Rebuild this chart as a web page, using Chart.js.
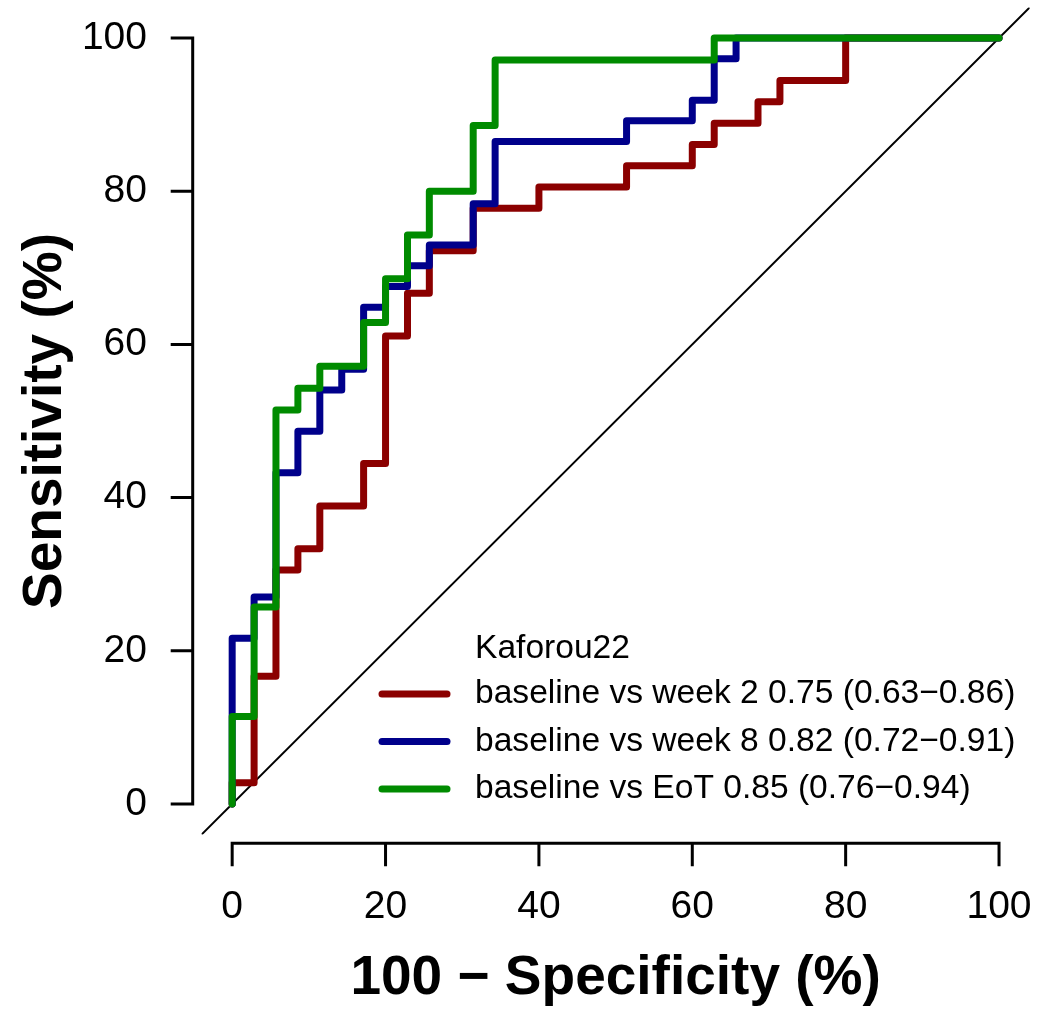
<!DOCTYPE html>
<html>
<head>
<meta charset="utf-8">
<script src="https://cdn.jsdelivr.net/npm/chart.js@4.4.1/dist/chart.umd.min.js"></script>
<style>
  html, body { margin: 0; padding: 0; background: #ffffff; }
  canvas { display: block; }
</style>
</head>
<body>
<canvas id="c" width="1039" height="1013"></canvas>
<script>
// ---- data ----
const xTicks = [0, 20, 40, 60, 80, 100];
const yTicks = [0, 20, 40, 60, 80, 100];
const xTickLabels = ['0', '20', '40', '60', '80', '100'];
const yTickLabels = ['0', '20', '40', '60', '80', '100'];
const axisRange = [-4, 104];

const seriesNames = [
  'baseline vs week 2 0.75 (0.63\u22120.86)',
  'baseline vs week 8 0.82 (0.72\u22120.91)',
  'baseline vs EoT 0.85 (0.76\u22120.94)'
];
const legendTitle = 'Kaforou22';
const seriesColors = ['#8B0000', '#00008B', '#008B00'];

const week2FPR = [0,0,2.86,2.86,5.71,5.71,8.57,8.57,11.43,11.43,17.14,17.14,20,20,22.86,22.86,25.71,25.71,31.43,31.43,40,40,51.43,51.43,60,60,62.86,62.86,68.57,68.57,71.43,71.43,80,80,100];
const week2TPR = [0,2.78,2.78,16.67,16.67,30.56,30.56,33.33,33.33,38.89,38.89,44.44,44.44,61.11,61.11,66.67,66.67,72.22,72.22,77.78,77.78,80.56,80.56,83.33,83.33,86.11,86.11,88.89,88.89,91.67,91.67,94.44,94.44,100,100];

const week8FPR = [0,0,2.86,2.86,5.71,5.71,8.57,8.57,11.43,11.43,14.29,14.29,17.14,17.14,20,20,22.86,22.86,25.71,25.71,31.43,31.43,34.29,34.29,51.43,51.43,60,60,62.86,62.86,65.71,65.71,100];
const week8TPR = [0,21.62,21.62,27.03,27.03,43.24,43.24,48.65,48.65,54.05,54.05,56.76,56.76,64.86,64.86,67.57,67.57,70.27,70.27,72.97,72.97,78.38,78.38,86.49,86.49,89.19,89.19,91.89,91.89,97.3,97.3,100,100];

const eotFPR = [0,0,2.86,2.86,5.71,5.71,8.57,8.57,11.43,11.43,17.14,17.14,20,20,22.86,22.86,25.71,25.71,31.43,31.43,34.29,34.29,62.86,62.86,100];
const eotTPR = [0,11.43,11.43,25.71,25.71,51.43,51.43,54.29,54.29,57.14,57.14,62.86,62.86,68.57,68.57,74.29,74.29,80,80,88.57,88.57,97.14,97.14,100,100];

// ---- helpers ----
const FAMILY = "'Liberation Sans', Arial, Helvetica, sans-serif";
function toPoints(xs, ys) { return xs.map((x, i) => ({ x: x, y: ys[i] })); }
function noPad(s) { s.paddingLeft = 0; s.paddingRight = 0; s.paddingTop = 0; s.paddingBottom = 0; }

const curveStyle = {
  showLine: true, fill: false, tension: 0, pointRadius: 0, pointHoverRadius: 0,
  borderWidth: 7, borderJoinStyle: 'round', borderCapStyle: 'round'
};

// R-style detached axes drawn with the chart's own scales
const rAxes = {
  id: 'rAxes',
  afterDraw(chart) {
    const { ctx, chartArea, scales } = chart;
    const xs = scales.x, ys = scales.y;
    const axisY = chartArea.bottom + 8.7;
    const axisX = chartArea.left - 8.8;
    const tick = 23;
    ctx.save();
    ctx.strokeStyle = '#000';
    ctx.lineWidth = 3;
    ctx.lineCap = 'butt';
    const x0 = xs.getPixelForValue(xTicks[0]);
    const x1 = xs.getPixelForValue(xTicks[xTicks.length - 1]);
    ctx.beginPath();
    ctx.moveTo(x0 - 1.5, axisY); ctx.lineTo(x1 + 1.5, axisY);
    xTicks.forEach(v => {
      const p = xs.getPixelForValue(v);
      ctx.moveTo(p, axisY); ctx.lineTo(p, axisY + tick);
    });
    ctx.stroke();
    const y0 = ys.getPixelForValue(yTicks[0]);
    const y1 = ys.getPixelForValue(yTicks[yTicks.length - 1]);
    ctx.beginPath();
    ctx.moveTo(axisX, y0 + 1.5); ctx.lineTo(axisX, y1 - 1.5);
    yTicks.forEach(v => {
      const p = ys.getPixelForValue(v);
      ctx.moveTo(axisX, p); ctx.lineTo(axisX - 22, p);
    });
    ctx.stroke();
    ctx.restore();
  }
};

// legend drawn inside the plot, as in the reference
const rLegend = {
  id: 'rLegend',
  afterDraw(chart) {
    const { ctx } = chart;
    const lineX0 = 382, lineX1 = 447, textX = 475;
    const rowY = [694, 741.5, 789];
    ctx.save();
    ctx.font = '33.6px ' + FAMILY;
    ctx.fillStyle = '#000';
    ctx.textAlign = 'left';
    ctx.textBaseline = 'middle';
    ctx.fillText(legendTitle, textX, 648.5);
    seriesNames.forEach((name, i) => {
      ctx.strokeStyle = seriesColors[i];
      ctx.lineWidth = 7;
      ctx.lineCap = 'round';
      ctx.beginPath();
      ctx.moveTo(lineX0, rowY[i]); ctx.lineTo(lineX1, rowY[i]);
      ctx.stroke();
      ctx.fillStyle = '#000';
      ctx.fillText(name, textX, rowY[i]);
    });
    ctx.restore();
  }
};

const ctx = document.getElementById('c').getContext('2d');
new Chart(ctx, {
  type: 'scatter',
  data: {
    datasets: [
      Object.assign({}, curveStyle, { label: seriesNames[2], data: toPoints(eotFPR, eotTPR), borderColor: seriesColors[2], order: 0 }),
      Object.assign({}, curveStyle, { label: seriesNames[1], data: toPoints(week8FPR, week8TPR), borderColor: seriesColors[1], order: 1 }),
      Object.assign({}, curveStyle, { label: seriesNames[0], data: toPoints(week2FPR, week2TPR), borderColor: seriesColors[0], order: 2 }),
      { label: 'diagonal', data: toPoints(axisRange, axisRange), showLine: true, fill: false, pointRadius: 0,
        borderColor: '#000', borderWidth: 2, order: 3 }
    ]
  },
  options: {
    responsive: false,
    animation: false,
    devicePixelRatio: 1,
    layout: { padding: { left: 0, right: 9.3, top: 7.4, bottom: 0 } },
    plugins: { legend: { display: false }, tooltip: { enabled: false } },
    events: [],
    scales: {
      x: {
        type: 'linear', min: axisRange[0], max: axisRange[1],
        afterFit(s) { s.height = 178.4; noPad(s); },
        afterBuildTicks(s) { s.ticks = xTicks.map(v => ({ value: v })); },
        grid: { display: false, drawTicks: false, tickLength: 0 },
        border: { display: false },
        ticks: {
          color: '#000', font: { size: 39, family: FAMILY }, padding: 49,
          autoSkip: false, maxRotation: 0, minRotation: 0,
          callback(v) { const i = xTicks.indexOf(v); return i >= 0 ? xTickLabels[i] : ''; }
        },
        title: {
          display: true, text: '100 \u2212 Specificity (%)', color: '#000',
          font: { size: 55, weight: 'bold', family: FAMILY }, padding: { top: 0, bottom: 1 }
        }
      },
      y: {
        type: 'linear', min: axisRange[0], max: axisRange[1],
        afterFit(s) { s.width = 201.5; noPad(s); },
        afterBuildTicks(s) { s.ticks = yTicks.map(v => ({ value: v })); },
        grid: { display: false, drawTicks: false, tickLength: 0 },
        border: { display: false },
        ticks: {
          color: '#000', font: { size: 39, family: FAMILY }, padding: 54.5,
          autoSkip: false,
          callback(v) { const i = yTicks.indexOf(v); return i >= 0 ? yTickLabels[i] : ''; }
        },
        title: {
          display: true, text: 'Sensitivity (%)', color: '#000',
          font: { size: 55, weight: 'bold', family: FAMILY }, padding: { top: 13, bottom: 0 }
        }
      }
    }
  },
  plugins: [rAxes, rLegend]
});
</script>
</body>
</html>
